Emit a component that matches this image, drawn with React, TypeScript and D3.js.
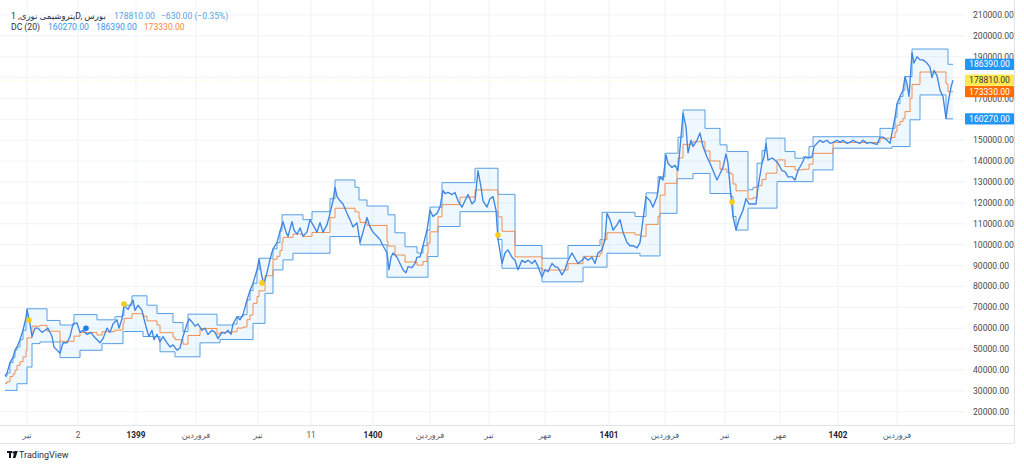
import React from 'react';
import * as d3 from 'd3';

// ---- data ----
const UNIT = 1000; // all series below are in thousands
// [trading day index, close]
const closeSeries: [number, number][] = [
  [0,37],[2,38.5],[5,43.5],[8,46],[10,49.5],[12,51],[15,54.5],[18,59],[21,65],[22,69],
  [25,62],[27,56],[30,60],[33,60],[37,58],[40,59],[43,60],[47,56],[49,51],[52,49.5],[55,48],[58,53],[62,53],[65,56],[68,62],[72,62.5],[75,58],[78,59],[82,57],[86,58],[89,56],[92,54.5],[95,53],[98,55],[102,60],[105,58],[108,62],[112,64],[114,60],[117,64.5],[119,71],[123,69],[128,73.5],[130,68.5],[133,71],[137,68.5],[139,64.5],[142,59],[144,56],[147,59],[149,54.5],[152,57],[155,53.5],[158,56],[162,53],[165,51],[168,52],[172,49.5],[175,50.5],[178,56],[182,62],[184,64.5],[187,63],[190,61],[193,62],[197,59],[200,60],[203,57],[207,59],[210,58],[213,55],[217,58],[220,57.5],[223,59],[226,57],[228,62],[232,65.5],[235,64],[238,66.5],[242,73.5],[245,78],[248,81.5],[252,88],[254,93],[257,84.5],[259,81.5],[262,86.5],[265,93],[268,98],[272,101],[275,106.5],[278,111],[281,106],[283,104],[287,111],[289,107],[292,105],[295,108],[298,104],[302,106],[305,112],[308,109.5],[312,106],[315,110.5],[318,106],[322,109.5],[325,115],[328,121],[330,127.5],[332,123],[335,121],[338,119.5],[342,115],[345,112],[348,108.5],[352,110.5],[355,101],[358,106],[362,113],[365,108.5],[368,106],[372,104],[375,102.5],[378,99.5],[382,96],[384,88],[386,94],[388,96],[392,94],[395,91],[398,88],[401,86.5],[403,89.5],[407,89],[410,91],[412,94],[415,94],[418,99.5],[422,107],[425,116.5],[428,113.5],[432,115],[435,118],[438,126],[440,124.5],[443,125],[447,124],[450,125],[453,121],[457,118],[460,121],[463,124],[467,119.5],[470,121],[473,135.5],[476,127.5],[478,121],[482,118],[485,122],[488,123],[491,116.5],[493,102.5],[497,91],[500,96],[503,97.5],[507,94],[510,92.5],[513,88],[517,92.5],[520,91.5],[523,92.5],[527,91],[530,92.5],[533,89.5],[537,84.5],[540,88],[543,87],[547,91],[550,89.5],[553,89],[557,85.5],[560,88],[563,92.5],[567,96],[570,93.5],[573,91],[577,92.5],[580,94],[583,92.5],[587,94],[590,91],[593,96],[597,97.5],[600,102.5],[602,115],[605,112],[608,107],[612,109.5],[615,112],[618,106],[622,101],[625,99.5],[628,99.5],[632,98.5],[635,101],[638,112],[641,123],[645,121],[648,118],[652,123],[655,132.5],[658,131],[661,143],[663,139],[667,137],[670,138],[673,135.5],[676,151.5],[678,163],[681,156.5],[683,144],[686,150],[688,147],[692,150],[695,153.5],[698,147],[702,142],[705,139],[708,135.5],[712,131],[715,134],[718,137],[721,143.5],[723,139],[726,123],[728,113.5],[731,107],[734,112],[738,116.5],[741,122],[744,119.5],[748,119.5],[751,119.5],[753,127.5],[757,139],[759,142],[761,148.5],[763,140.5],[767,141.5],[770,140.5],[773,139],[777,135.5],[780,135],[783,132.5],[787,132.5],[790,131],[793,135.5],[797,139],[800,142],[803,141.5],[807,142],[809,147],[812,148.5],[815,150],[818,149],[822,150],[825,148.5],[828,149],[832,150],[835,149],[838,150],[842,148.5],[845,149],[848,150],[852,149],[855,148.5],[858,150],[862,148.5],[865,149],[868,148.5],[872,148],[875,151.5],[878,151.5],[882,150],[885,148.5],[887,153.5],[890,161],[892,167.5],[895,171],[898,174],[900,180.5],[902,177],[904,171],[907,192],[909,187],[912,190],[915,188.5],[918,188.5],[922,187],[925,185],[927,180],[929,183.5],[932,181],[935,174],[938,171],[941,160.5],[943,167.5],[946,175.5],[948,178.81]
];
// Donchian channel (20) upper band, [day it changes, value]
const dcUpper: [number, number][] = [
  [0,37],[2,38.5],[5,43.5],[8,46],[10,49.5],[12,51],[15,54.5],[18,59],[21,65],[22,69.3],
  [42,63.7],[55,61.5],[69,66.5],[92,64],[110,65.5],[117,66],[119,71],[127,75.5],[142,71],[152,67],[168,62.7],[178,58.4],[183,66.7],[212,61.5],
  [228,62],[232,65.5],[238,66.5],[242,73.5],[245,78],[248,81.5],[252,88],[254,93.5],[268,98],[272,101],[275,106.5],[277,114.3],[298,112],[307,115.8],
  [325,122],[330,131],[350,127.5],[354,121.4],[362,118.5],[383,114.3],[390,105.7],[400,99],[412,96],[418,99.5],[422,107],[425,118],[437,129.7],[470,136.6],[493,124.1],[510,99.6],[537,93.5],[563,99.6],[595,102.5],[597,115.5],[630,113.5],
  [641,124.8],[653,132.5],[660,143.8],[673,151.5],[678,164.5],[700,155.7],[715,147.8],[722,144.6],[743,126.3],[748,127.5],[752,139],[757,145],[761,151],[780,144.6],[790,141.4],[798,142],[804,147],[808,151.7],[875,155.7],
  [890,161],[892,167.5],[895,171],[898,174],[900,180.5],[907,193.7],[943,186.39],[948,186.39]
];
// Donchian channel (20) lower band, [day it changes, value]
const dcLower: [number, number][] = [
  [0,30.2],[12,33.4],[22,41.4],[27,52.6],[35,53.4],[55,45.9],[75,49.4],[97,52.6],[118,58.4],[138,56],[155,48.7],[170,46.3],[195,53],[215,54.6],[248,62.3],[260,76.7],[268,87.9],[278,92.7],[288,95.9],
  [325,103.9],[355,99.9],[382,84.4],[423,94.3],[433,108.7],[455,115.8],[493,102.5],[497,88.7],[537,82.2],[578,89.2],[602,95.9],[635,94.6],[655,115],[672,131.6],[688,134.1],[705,124.5],[726,123],[728,113.5],[731,107],[743,117.5],[772,130.2],[808,135.8],[828,146.2],[887,147],[905,159.8],[915,171.7],[941,160.27],[948,160.27]
];

const priceTicks = [20000,30000,40000,50000,60000,70000,80000,90000,100000,110000,120000,130000,140000,150000,160000,170000,180000,190000,200000,210000];
const timeTicks: [number, string, boolean][] = [
  [22,'تیر',false],[73,'2',false],[131,'1399',true],[191,'فروردین',false],[253,'تیر',false],
  [306,'11',false],[368,'1400',true],[425,'فروردین',false],[484,'تیر',false],[540,'مهر',false],
  [604,'1401',true],[660,'فروردین',false],[720,'تیر',false],[775,'مهر',false],[833,'1402',true],[892,'فروردین',false]
];
// [day, value, kind]
const eventMarks: [number, number, string][] = [
  [24,63900,'y'],[81,60000,'b'],[119,71600,'y'],[257,81700,'y'],[493,104600,'y'],[727,120400,'y']
];
const symbolTitle = 'پتروشیمی نوری, 1D, بورس';
const lastClose = 178810;
const lastChange = -630;
const lastChangePct = -0.35;
const dcLast = { lower: 160270, upper: 186390, basis: 173330 };

const W = 1024, H = 468;
const PLOT = { left: 4, right: 965, top: 0, bottom: 425 };
const FONT = 'Roboto, "Noto Sans", "DejaVu Sans", sans-serif';

const fmt = (v: number) => v.toFixed(2);
const fmtSigned = (v: number) => (v < 0 ? '\u2212' + Math.abs(v).toFixed(2) : '+' + v.toFixed(2));

function stepValue(series: [number, number][], day: number) {
  const i = d3.bisector((s: [number, number]) => s[0]).right(series, day) - 1;
  return series[Math.max(0, i)][1];
}

export default function App() {
  const x = d3.scaleLinear().domain([0, 948]).range([5, 953]);
  const y = d3.scaleLinear().domain([20000, 210000]).range([411.7, 15]);

  const pts = closeSeries.map(([d, c]) => ({ d, c: c * UNIT }));
  const days = Array.from(new Set([...dcUpper.map((s) => s[0]), ...dcLower.map((s) => s[0])])).sort((a, b) => a - b);
  const dc = days.map((d) => {
    const up = stepValue(dcUpper, d) * UNIT;
    const lo = stepValue(dcLower, d) * UNIT;
    return { d, up, lo, mid: (up + lo) / 2 };
  });

  const line = d3.line<{ d: number; c: number }>().x((p) => x(p.d)).y((p) => y(p.c));
  const st = d3.curveStepAfter;
  const upLine = d3.line<any>().curve(st).x((p) => x(p.d)).y((p) => y(p.up));
  const loLine = d3.line<any>().curve(st).x((p) => x(p.d)).y((p) => y(p.lo));
  const midLine = d3.line<any>().curve(st).x((p) => x(p.d)).y((p) => y(p.mid));
  const band = d3.area<any>().curve(st).x((p) => x(p.d)).y0((p) => y(p.lo)).y1((p) => y(p.up));

  const badges = [
    { v: dcLast.upper, fill: '#2196f3', text: '#ffffff' },
    { v: lastClose, fill: '#fde84f', text: '#3a3a3a' },
    { v: dcLast.basis, fill: '#ff6d00', text: '#ffffff' },
    { v: dcLast.lower, fill: '#2196f3', text: '#ffffff' },
  ];
  // axis labels that sit fully behind a badge are not visible in the reference
  const hidden = (t: number) => badges.some((b) => Math.abs(y(b.v) - y(t)) < 4);

  return (
    <svg width={W} height={H} style={{ position: 'fixed', left: 0, top: 0, background: '#fff' }} fontFamily={FONT}>
      <defs>
        <clipPath id="plotClip">
          <rect x={PLOT.left} y={PLOT.top} width={PLOT.right - PLOT.left} height={PLOT.bottom - PLOT.top} />
        </clipPath>
      </defs>
      {/* grid */}
      {priceTicks.map((t) => (
        <line key={'h' + t} x1={0} x2={PLOT.right} y1={y(t)} y2={y(t)} stroke="#f1f3f8" strokeWidth={1} />
      ))}
      {timeTicks.map(([d]) => (
        <line key={'v' + d} x1={x(d)} x2={x(d)} y1={0} y2={PLOT.bottom} stroke="#f1f3f8" strokeWidth={1} />
      ))}
      {/* last price line */}
      <line x1={0} x2={PLOT.right} y1={y(lastClose)} y2={y(lastClose)} stroke="#fde84f" strokeOpacity={0.45} strokeWidth={1} strokeDasharray="1 2" />
      <g clipPath="url(#plotClip)">
        <path d={band(dc) || ''} fill="#2196f3" fillOpacity={0.07} />
        <path d={upLine(dc) || ''} fill="none" stroke="#569fe4" strokeWidth={1} />
        <path d={loLine(dc) || ''} fill="none" stroke="#569fe4" strokeWidth={1} />
        <path d={midLine(dc) || ''} fill="none" stroke="#f2843e" strokeWidth={0.9} />
        <path d={line(pts) || ''} fill="none" stroke="#3f86e3" strokeWidth={1.35} strokeLinejoin="round" />
        {eventMarks.map(([d, v, k], i) => (
          <circle key={i} cx={x(d)} cy={y(v)} r={2.8} fill={k === 'y' ? '#f7cd1b' : '#1e7fe0'} />
        ))}
      </g>
      {/* axes frame */}
      <line x1={0} x2={1014} y1={PLOT.bottom + 0.5} y2={PLOT.bottom + 0.5} stroke="#e0e3eb" />
      <line x1={0} x2={1014} y1={443.5} y2={443.5} stroke="#e0e3eb" />
      <line x1={1014.5} x2={1014.5} y1={0} y2={443.5} stroke="#e0e3eb" />
      {/* price axis labels */}
      {priceTicks.filter((t) => !hidden(t)).map((t) => (
        <text key={'pl' + t} x={973} y={y(t)} dy="0.35em" fontSize={8.6} fill="#4a4a4a">{fmt(t)}</text>
      ))}
      {badges.map((b, i) => (
        <g key={'b' + i}>
          <rect x={965} y={y(b.v) - 5.6} width={49} height={11.2} fill={b.fill} rx={1} />
          <text x={989.5} y={y(b.v)} dy="0.35em" textAnchor="middle" fontSize={8.6} fill={b.text}>{fmt(b.v)}</text>
        </g>
      ))}
      {/* time axis labels */}
      {timeTicks.map(([d, label, major]) => (
        <text key={'tl' + d} x={x(d)} y={435} dy="0.35em" textAnchor="middle" fontSize={8.2}
          fontWeight={major ? 700 : 400} fill={major ? '#1f2230' : '#555a66'}>{label}</text>
      ))}
      {/* legend */}
      <text x={11} y={16} dy="0.35em" fontSize={8.6} fill="#2a2e39">{symbolTitle}</text>
      <text x={114} y={16} dy="0.35em" fontSize={8.6} fill="#5b9fe3">
        {fmt(lastClose)}
        <tspan dx={6}>{fmtSigned(lastChange)} ({fmtSigned(lastChangePct)}%)</tspan>
      </text>
      <text x={11} y={27} dy="0.35em" fontSize={8.6} fill="#2a2e39">
        DC (20)
        <tspan dx={8} fill="#3d95e6">{fmt(dcLast.lower)}</tspan>
        <tspan dx={7} fill="#3d95e6">{fmt(dcLast.upper)}</tspan>
        <tspan dx={7} fill="#f28a3c">{fmt(dcLast.basis)}</tspan>
      </text>
      {/* TradingView mark */}
      <g transform="translate(7,451)" fill="#131722">
        <rect x={0} y={0} width={5} height={2} />
        <rect x={2} y={0} width={2} height={7} />
        <circle cx={6.6} cy={1.4} r={1.2} />
        <path d="M7.6 0 L10.8 0 L8.4 7 L5.8 7 Z" />
      </g>
      <text x={19} y={455} dy="0.35em" fontSize={9} fill="#2a2e39">TradingView</text>
    </svg>
  );
}
